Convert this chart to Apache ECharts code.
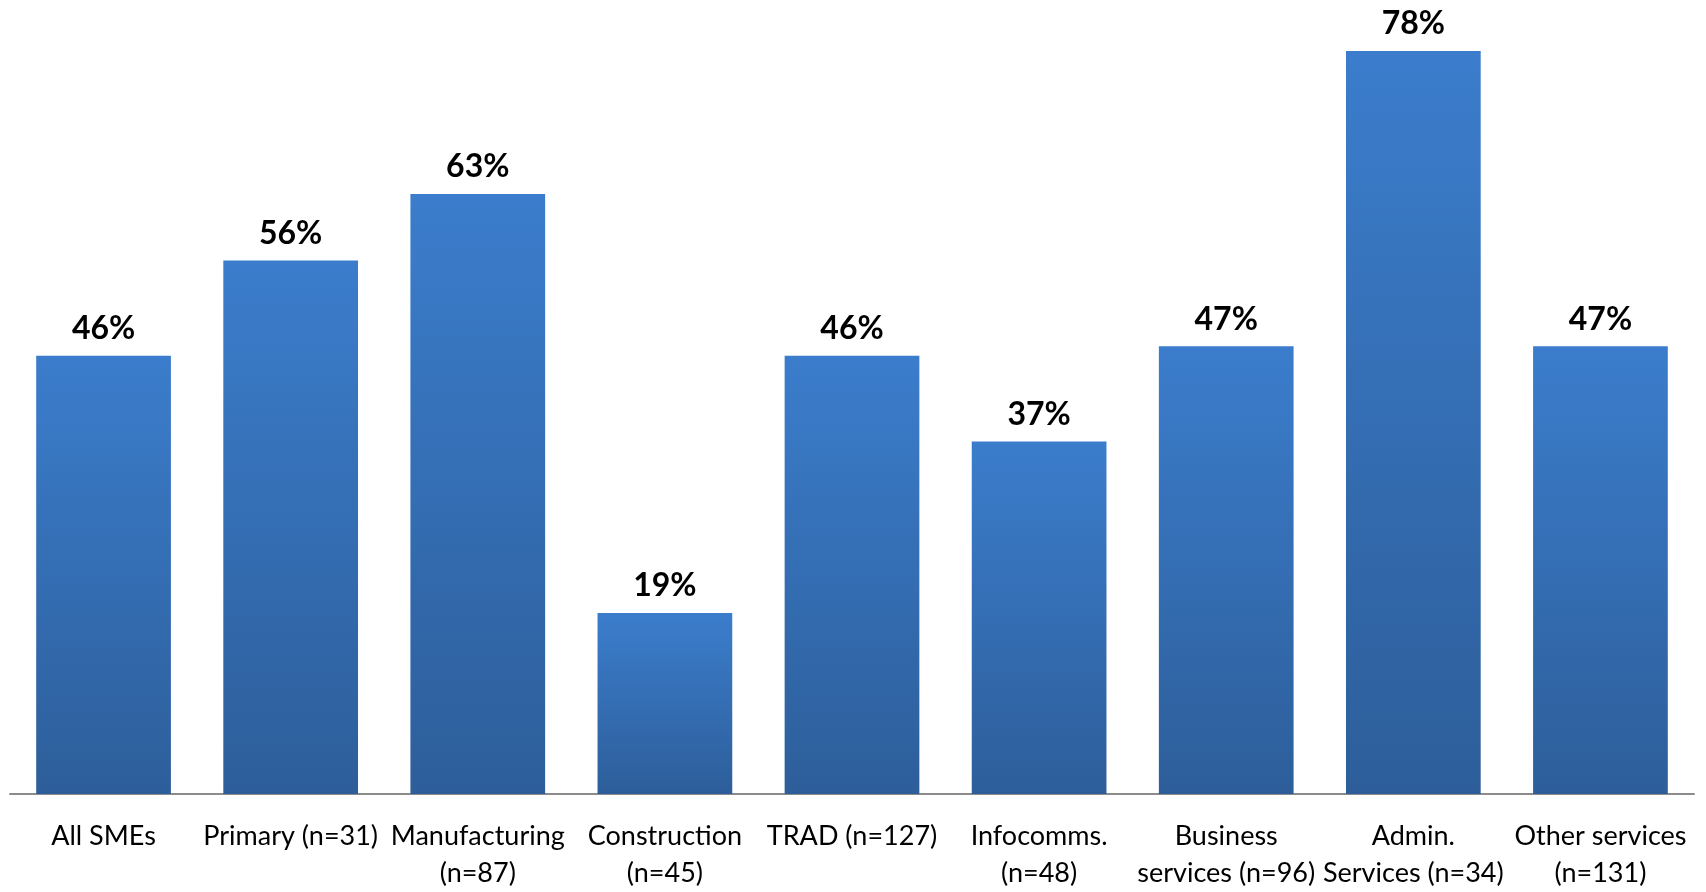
<!DOCTYPE html>
<html>
<head>
<meta charset="utf-8">
<script src="https://cdn.jsdelivr.net/npm/echarts@6/dist/echarts.min.js"></script>
<style>
  html, body { margin: 0; padding: 0; background: #fff; }
  #chart { width: 1706px; height: 892px; }
</style>
</head>
<body>
<div id="chart"></div>
<script>
// Share of SMEs by sector (%)
const categories = [
  'All SMEs',
  'Primary (n=31)',
  'Manufacturing\n(n=87)',
  'Construction\n(n=45)',
  'TRAD (n=127)',
  'Infocomms.\n(n=48)',
  'Business\nservices (n=96)',
  'Admin.\nServices (n=34)',
  'Other services\n(n=131)'
];
const values = [46, 56, 63, 19, 46, 37, 47, 78, 47];

const chart = echarts.init(document.getElementById('chart'));
chart.setOption({
  animation: false,
  backgroundColor: '#ffffff',
  grid: { left: 10, right: 12, top: 32, bottom: 93, containLabel: false },
  xAxis: {
    type: 'category',
    data: categories,
    axisTick: { show: false },
    axisLine: { lineStyle: { color: '#8c8c8c', width: 2 } },
    axisLabel: {
      interval: 0,
      color: '#000',
      fontFamily: 'Lato',
      fontSize: 27,
      lineHeight: 37,
      margin: 24
    }
  },
  yAxis: {
    type: 'value',
    min: 0,
    max: 80,
    show: false,
    splitLine: { show: false }
  },
  series: [{
    type: 'bar',
    data: values,
    barCategoryGap: '28%',
    itemStyle: {
      color: new echarts.graphic.LinearGradient(0, 0, 0, 1, [
        { offset: 0, color: '#3b7dcc' },
        { offset: 1, color: '#2d5e9a' }
      ])
    },
    label: {
      show: true,
      position: 'top',
      distance: 11,
      formatter: '{c}%',
      color: '#000',
      fontFamily: 'Lato',
      fontWeight: 'bold',
      fontSize: 32
    }
  }]
});
</script>
</body>
</html>
